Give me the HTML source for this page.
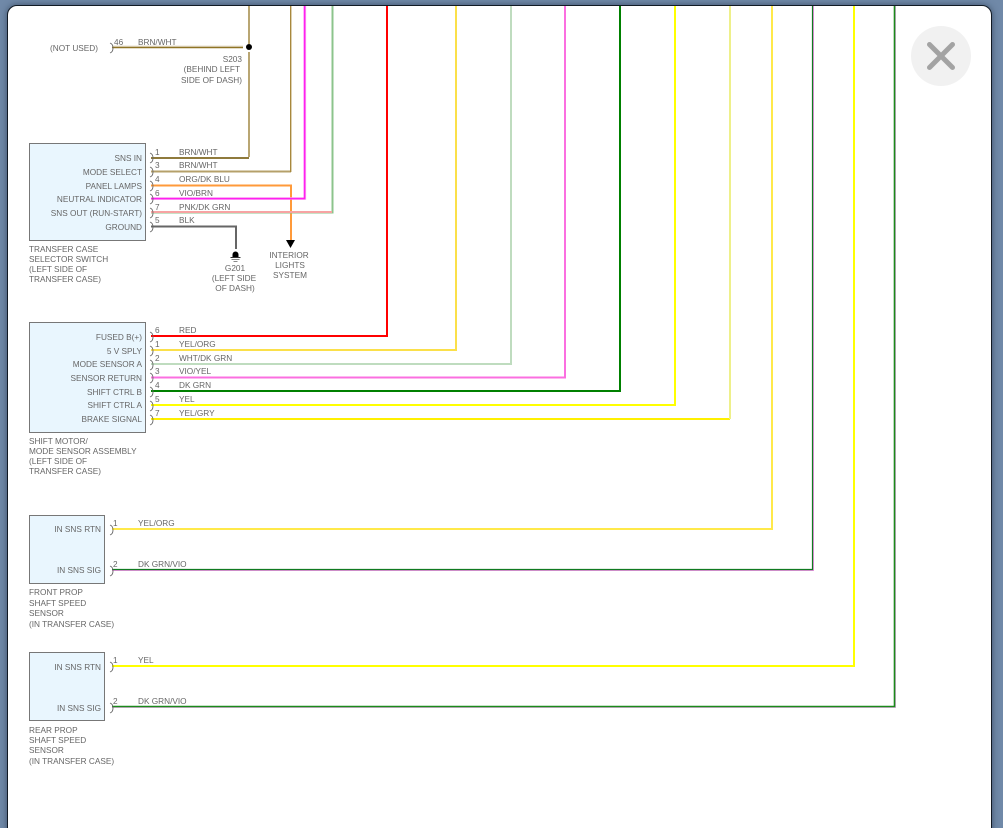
<!DOCTYPE html>
<html>
<head>
<meta charset="utf-8">
<style>
html,body{margin:0;padding:0;width:1003px;height:828px;overflow:hidden;background:#6d88a6}
#wrap{position:relative;width:1003px;height:828px;overflow:hidden;background:#7089a8}
#card{position:absolute;left:7px;top:5px;width:983px;height:840px;background:#fff;border:1px solid #111a24;border-radius:10px;box-shadow:0 0 7px rgba(20,35,55,.55)}
svg{position:absolute;left:0;top:0}
text{font-family:"Liberation Sans",sans-serif;font-size:8.25px;fill:#666}
.e{text-anchor:end}
.m{text-anchor:middle}
.t{filter:blur(.25px)}
</style>
</head>
<body>
<div id="wrap">
<div id="card"></div>
<svg width="1003" height="828" viewBox="0 0 1003 828" fill="none">
<defs><clipPath id="c"><rect x="8" y="6" width="982" height="822"/></clipPath></defs>
<g clip-path="url(#c)">
<!-- boxes -->
<g fill="#e9f6fe" stroke="#777" stroke-width="1">
<rect x="29.5" y="143.5" width="116" height="97"/>
<rect x="29.5" y="322.5" width="116" height="110"/>
<rect x="29.5" y="515.5" width="75" height="68"/>
<rect x="29.5" y="652.5" width="75" height="68"/>
</g>
<!-- wires -->
<g stroke-width="2" stroke-linejoin="miter">
<path d="M249 0V44M249 52V157" stroke="#b9a673"/>
<path d="M112 46.5H243" stroke="#e8e2d0"/>
<path d="M112 47.5H243" stroke="#8f7426" stroke-width="1.4"/>
<path d="M151 158H249" stroke="#8f7a3c"/>
<path d="M151 171.5H291" stroke="#b5a06a"/>
<path d="M290.7 0V172" stroke="#a8883c" stroke-width="1.4"/>
<path d="M151 185.5H291V241" stroke="#ff9a3a"/>
<path d="M305 0V198.5H151" stroke="#f8c8f0" stroke-width="2.4"/>
<path d="M304.6 0V198.6H151" stroke="#ff20f0" stroke-width="1.8"/>
<path d="M332.5 0V212.5H151" stroke="#8cc48c"/>
<path d="M151 212H332" stroke="#f7a3a3"/>
<path d="M151 226.5H236V249" stroke="#666"/>
<path d="M151 336H387V0" stroke="#f00"/>
<path d="M151 350H456V0" stroke="#fbe04a"/>
<path d="M151 364H511V0" stroke="#bfdcbf"/>
<path d="M151 377.5H565V0" stroke="#fb6fe0"/>
<path d="M151 391H620V0" stroke="#008000"/>
<path d="M151 405H675V0" stroke="#ff0"/>
<path d="M151 419H730" stroke="#fff000"/>
<path d="M730 419V0" stroke="#eef08a"/>
<path d="M112 529H772V0" stroke="#ffe94a"/>
<path d="M112 570.5H813.5V0" stroke="#e890e0" stroke-width="1"/>
<path d="M112 569.5H812.5V0" stroke="#107a20" stroke-width="1.2"/>
<path d="M112 666H854V0" stroke="#ff0"/>
<path d="M112 707.5H895.5V0" stroke="#dcb0dc" stroke-width="1"/>
<path d="M112 706.5H894.5V0" stroke="#1a8a1a" stroke-width="1.6"/>
</g>
<!-- splice -->
<circle cx="249" cy="47" r="3" fill="#000"/>
<!-- arrow -->
<path d="M286 240H295L290.5 248Z" fill="#000"/>
<!-- ground -->
<path d="M232.5 257V254.5A3 3 0 0 1 238.5 254.5V257Z" fill="#000"/>
<path d="M230.5 257.5H240.5" stroke="#333"/>
<path d="M231.5 259.5H239.5M233.5 261.5H237.5" stroke="#888"/>
<!-- connectors -->
<g stroke="#666" stroke-width=".9">
<path d="M150 153Q153 154 153 158Q153 162 150 163"/>
<path d="M150 167Q153 168 153 172Q153 176 150 177"/>
<path d="M150 181Q153 182 153 186Q153 190 150 191"/>
<path d="M150 194Q153 195 153 199Q153 203 150 204"/>
<path d="M150 208Q153 209 153 213Q153 217 150 218"/>
<path d="M150 222Q153 223 153 227Q153 231 150 232"/>
<path d="M150 332Q153 333 153 337Q153 341 150 342"/>
<path d="M150 346Q153 347 153 351Q153 355 150 356"/>
<path d="M150 360Q153 361 153 365Q153 369 150 370"/>
<path d="M150 373Q153 374 153 378Q153 382 150 383"/>
<path d="M150 387Q153 388 153 392Q153 396 150 397"/>
<path d="M150 401Q153 402 153 406Q153 410 150 411"/>
<path d="M150 415Q153 416 153 420Q153 424 150 425"/>
<path d="M110 43Q113 44 113 48Q113 52 110 53"/>
<path d="M110 525Q113 526 113 530Q113 534 110 535"/>
<path d="M110 566Q113 567 113 571Q113 575 110 576"/>
<path d="M110 662Q113 663 113 667Q113 671 110 672"/>
<path d="M110 703Q113 704 113 708Q113 712 110 713"/>
</g>
<!-- close button -->
<circle cx="941" cy="56" r="30" fill="#f1f1f1"/>
<path d="M929.5 44.5L952.5 67.5M952.5 44.5L929.5 67.5" stroke="#a3a3a3" stroke-width="5" stroke-linecap="round"/>
<g class="t">
<!-- top section text -->
<text x="98" y="51" class="e">(NOT USED)</text>
<text x="114" y="45">46</text>
<text x="138" y="45">BRN/WHT</text>
<text x="242" y="62" class="e">S203</text>
<text x="240" y="72" class="e">(BEHIND LEFT</text>
<text x="242" y="83" class="e">SIDE OF DASH)</text>
<!-- box 1 -->
<text x="142" y="161" class="e">SNS IN</text>
<text x="142" y="175" class="e">MODE SELECT</text>
<text x="142" y="189" class="e">PANEL LAMPS</text>
<text x="142" y="202" class="e">NEUTRAL INDICATOR</text>
<text x="142" y="216" class="e">SNS OUT (RUN-START)</text>
<text x="142" y="230" class="e">GROUND</text>
<text x="155" y="155">1</text><text x="179" y="155">BRN/WHT</text>
<text x="155" y="168">3</text><text x="179" y="168">BRN/WHT</text>
<text x="155" y="182">4</text><text x="179" y="182">ORG/DK BLU</text>
<text x="155" y="196">6</text><text x="179" y="196">VIO/BRN</text>
<text x="155" y="210">7</text><text x="179" y="210">PNK/DK GRN</text>
<text x="155" y="223">5</text><text x="179" y="223">BLK</text>
<text x="29" y="252">TRANSFER CASE</text>
<text x="29" y="262">SELECTOR SWITCH</text>
<text x="29" y="272">(LEFT SIDE OF</text>
<text x="29" y="282">TRANSFER CASE)</text>
<text x="235" y="271" class="m">G201</text>
<text x="234" y="281" class="m">(LEFT SIDE</text>
<text x="235" y="291" class="m">OF DASH)</text>
<text x="289" y="258" class="m">INTERIOR</text>
<text x="290" y="268" class="m">LIGHTS</text>
<text x="290" y="278" class="m">SYSTEM</text>
<!-- box 2 -->
<text x="142" y="340" class="e">FUSED B(+)</text>
<text x="142" y="354" class="e">5 V SPLY</text>
<text x="142" y="367" class="e">MODE SENSOR A</text>
<text x="142" y="381" class="e">SENSOR RETURN</text>
<text x="142" y="395" class="e">SHIFT CTRL B</text>
<text x="142" y="408" class="e">SHIFT CTRL A</text>
<text x="142" y="422" class="e">BRAKE SIGNAL</text>
<text x="155" y="333">6</text><text x="179" y="333">RED</text>
<text x="155" y="347">1</text><text x="179" y="347">YEL/ORG</text>
<text x="155" y="361">2</text><text x="179" y="361">WHT/DK GRN</text>
<text x="155" y="374">3</text><text x="179" y="374">VIO/YEL</text>
<text x="155" y="388">4</text><text x="179" y="388">DK GRN</text>
<text x="155" y="402">5</text><text x="179" y="402">YEL</text>
<text x="155" y="416">7</text><text x="179" y="416">YEL/GRY</text>
<text x="29" y="444">SHIFT MOTOR/</text>
<text x="29" y="454">MODE SENSOR ASSEMBLY</text>
<text x="29" y="464">(LEFT SIDE OF</text>
<text x="29" y="474">TRANSFER CASE)</text>
<!-- box 3 -->
<text x="101" y="532" class="e">IN SNS RTN</text>
<text x="101" y="573" class="e">IN SNS SIG</text>
<text x="113" y="526">1</text><text x="138" y="526">YEL/ORG</text>
<text x="113" y="567">2</text><text x="138" y="567">DK GRN/VIO</text>
<text x="29" y="595">FRONT PROP</text>
<text x="29" y="606">SHAFT SPEED</text>
<text x="29" y="616">SENSOR</text>
<text x="29" y="627">(IN TRANSFER CASE)</text>
<!-- box 4 -->
<text x="101" y="670" class="e">IN SNS RTN</text>
<text x="101" y="711" class="e">IN SNS SIG</text>
<text x="113" y="663">1</text><text x="138" y="663">YEL</text>
<text x="113" y="704">2</text><text x="138" y="704">DK GRN/VIO</text>
<text x="29" y="733">REAR PROP</text>
<text x="29" y="743">SHAFT SPEED</text>
<text x="29" y="753">SENSOR</text>
<text x="29" y="764">(IN TRANSFER CASE)</text>
</g>
</g>
</svg>
</div>
</body>
</html>
